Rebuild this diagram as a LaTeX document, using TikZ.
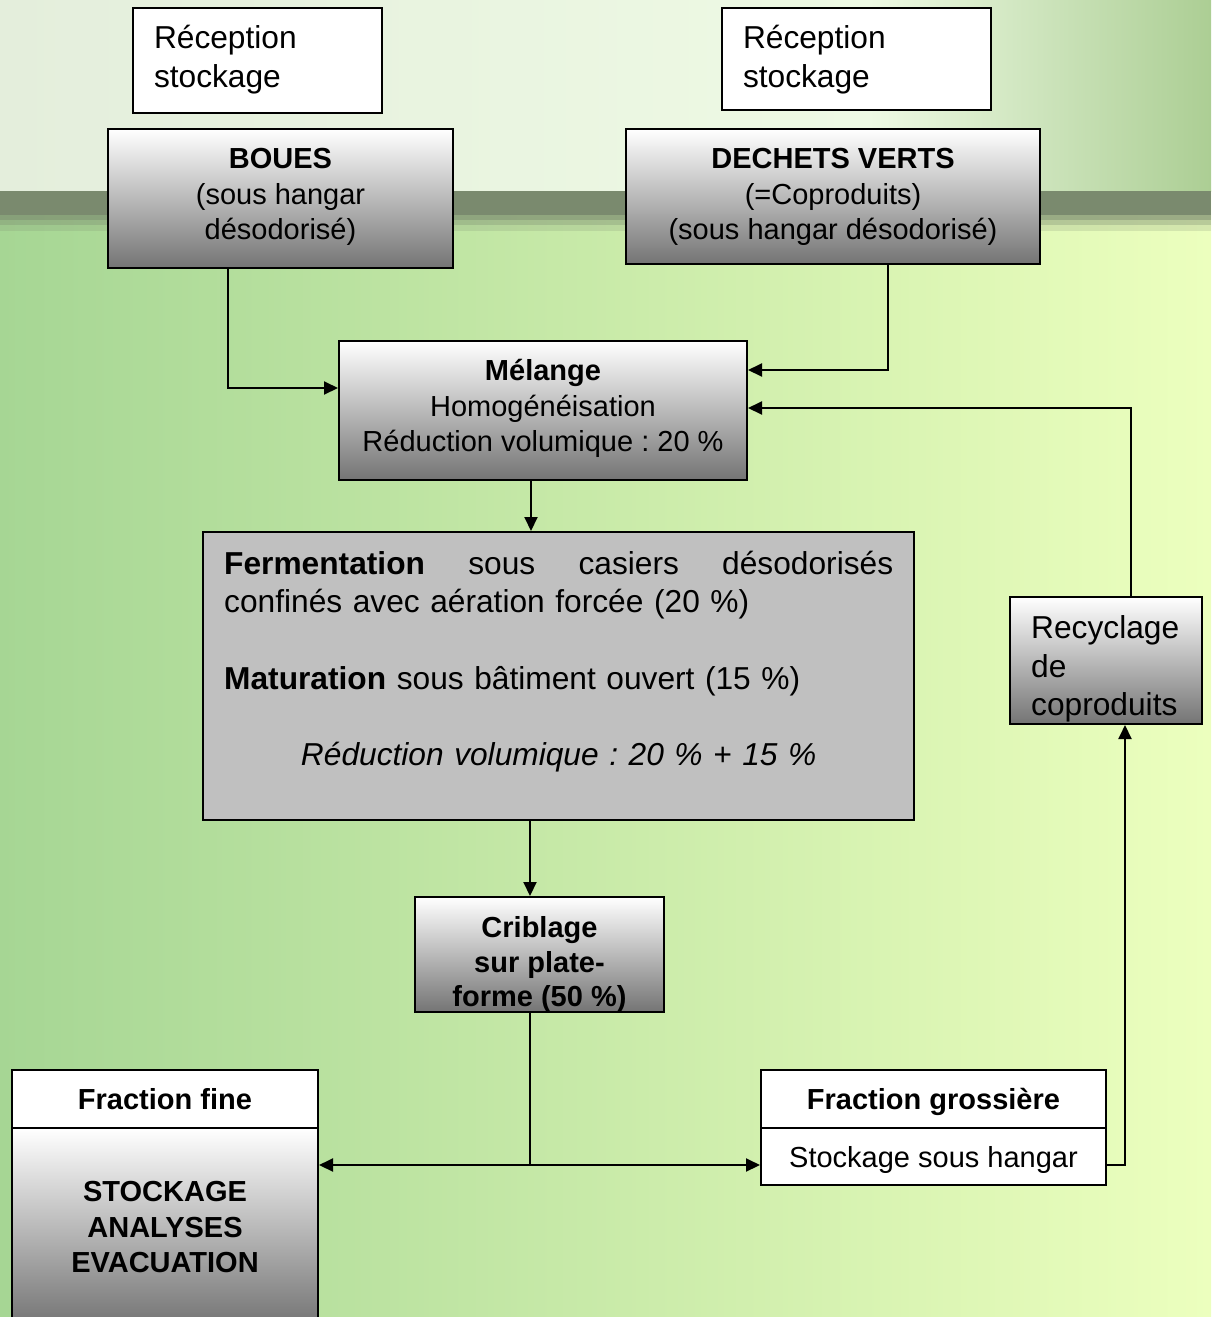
\documentclass[tikz,border=0pt]{standalone}
\usepackage{fontspec}
\setmainfont{Liberation Sans}
\usetikzlibrary{arrows.meta,calc}
\definecolor{bgL}{RGB}{166,214,148}
\definecolor{bgM}{RGB}{208,240,178}
\definecolor{bgR}{RGB}{236,255,190}
\definecolor{topL}{RGB}{228,238,220}
\definecolor{topM}{RGB}{238,250,228}
\definecolor{topR}{RGB}{172,206,148}
\definecolor{bandc}{RGB}{122,138,110}
\definecolor{boxgray}{RGB}{192,192,192}
\definecolor{gradbot}{RGB}{116,116,116}
\begin{document}
\frenchspacing
\begin{tikzpicture}[x=1pt,y=-1pt,
  bx/.style={draw=black,line width=2pt,inner sep=0pt,rectangle},
  wbox/.style={bx,fill=white},
  gbox/.style={bx,top color=white,bottom color=gradbot},
  txt/.style={inner sep=0pt,font=\fontsize{29}{35.5}\selectfont,align=center},
  bigtxt/.style={inner sep=0pt,align=left,font=\fontsize{31.7}{39}\selectfont},
  conn/.style={line width=2pt},
  arr/.style={line width=2pt,-{Triangle[length=14pt,width=13pt]}},
]
\useasboundingbox (0,0) rectangle (1211,1317);
% background
\shade[left color=bgL,middle color=bgM,right color=bgR] (0,190) rectangle (1211,1317);
\shade[left color=topL,right color=topM] (0,0) rectangle (870,191);
\shade[left color=topM,right color=topR] (869,0) rectangle (1211,191);
\fill[bandc] (0,191) rectangle (1211,215);
\fill[bandc,opacity=0.7] (0,215) rectangle (1211,220);
\fill[bandc,opacity=0.45] (0,220) rectangle (1211,225);
\fill[bandc,opacity=0.2] (0,225) rectangle (1211,231);

% boxes
\node[wbox,minimum width=249pt,minimum height=105pt] (rec1) at (257.5,60.5) {};
\node[bigtxt,text width=207pt] (rec1t) at (257.5,60) {Réception\\stockage};
\node[wbox,minimum width=269pt,minimum height=102pt] (rec2) at (856.5,59) {};
\node[bigtxt,text width=227pt] (rec2t) at (856.5,60) {Réception\\stockage};

\node[gbox,minimum width=345pt,minimum height=139pt] (boues) at (280.5,198.5) {};
\node[txt] (bouest) at (280.5,197) {\textbf{BOUES}\\(sous hangar\\désodorisé)};
\node[gbox,minimum width=414pt,minimum height=135pt] (dechets) at (833,196.5) {};
\node[txt] (dechetst) at (833,197) {\textbf{DECHETS VERTS}\\(=Coproduits)\\(sous hangar désodorisé)};

\node[gbox,minimum width=408pt,minimum height=139pt] (melange) at (543,410.5) {};
\node[txt] (melanget) at (543,408.5) {\textbf{Mélange}\\Homogénéisation\\Réduction volumique : 20 \%};

\node[bx,fill=boxgray,minimum width=711pt,minimum height=288pt] (ferm) at (558.5,676) {};
\node[inner sep=0pt,text width=669pt,anchor=north west,font=\fontsize{31.7}{38.2}\selectfont] (fermt) at (224,551)
 {\parindent=0pt\leftskip=0pt\rightskip=0pt\parfillskip=0pt plus 1fil\relax\frenchspacing
  \hbox to 669pt{\textbf{Fermentation}\hfil sous\hfil casiers\hfil désodorisés}
  confinés avec aération forcée (20 \%)\par
  \vskip 38.2pt
  \textbf{Maturation} sous bâtiment ouvert (15 \%)\par
  \vskip 38.2pt
  {\centering\itshape Réduction volumique : 20 \% + 15 \%\par}};

\node[gbox,minimum width=249pt,minimum height=115pt] (crib) at (539.5,954.5) {};
\node[txt,font=\bfseries\fontsize{29}{34.5}\selectfont] (cribt) at (539.5,964.5) {Criblage\\sur plate-\\forme (50 \%)};

\node[gbox,minimum width=192pt,minimum height=127pt] (recy) at (1106,660.5) {};
\node[bigtxt,text width=165pt,anchor=west,font=\fontsize{31.7}{38.5}\selectfont] (recyt) at (1031,669) {Recyclage\\de\\coproduits};

\node[wbox,minimum width=306pt,minimum height=58pt] (fhead) at (165,1099) {};
\node[txt,font=\bfseries\fontsize{29}{35.5}\selectfont] (fheadt) at (165,1099.5) {Fraction fine};
\node[gbox,minimum width=306pt,minimum height=198pt] (fbody) at (165,1227) {};
\node[txt,font=\bfseries\fontsize{29}{35.5}\selectfont] (fbodyt) at (165,1227.5) {STOCKAGE\\ANALYSES\\EVACUATION};

\node[wbox,minimum width=345pt,minimum height=58pt] (ghead) at (933.5,1099) {};
\node[txt,font=\bfseries\fontsize{29}{35.5}\selectfont] (gheadt) at (933.5,1102) {Fraction grossière};
\node[wbox,minimum width=345pt,minimum height=57pt] (gbody) at (933.5,1156.5) {};
\node[txt] (gbodyt) at (933.5,1160) {Stockage sous hangar};

% connectors
\draw[arr] ([xshift=-52.5pt]boues.south) |- ([yshift=22.5pt]melange.west);
\draw[arr] ([xshift=55pt]dechets.south) |- ([yshift=40.5pt]melange.east);
\draw[arr] ([xshift=25pt]recy.north) |- ([yshift=2.5pt]melange.east);
\draw[arr] ([xshift=-12pt]melange.south) -- ([xshift=-12pt]melange.south |- ferm.north);
\draw[arr] ([xshift=-28.5pt]ferm.south) -- ([xshift=-28.5pt]ferm.south |- crib.north);
\coordinate (cribout) at ([xshift=-9.5pt]crib.south);
\coordinate (gin) at ([yshift=-8.5pt]gbody.west);
\coordinate (split) at (cribout |- gin);
\draw[conn] (cribout) -- (split);
\draw[arr] (split) -- (gin);
\draw[arr] (split) -- (split -| fbody.east);
\draw[arr] ([yshift=-8.5pt]gbody.east) -| ([xshift=19pt]recy.south);
\end{tikzpicture}
\end{document}
